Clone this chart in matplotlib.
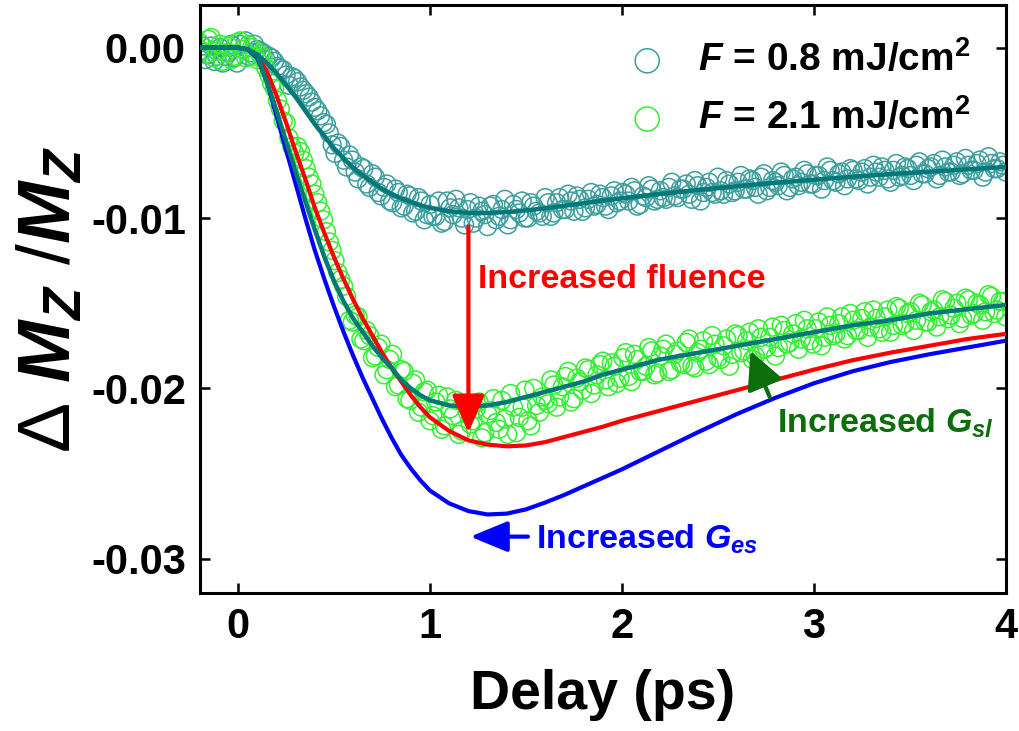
import numpy as np
import matplotlib
matplotlib.use("Agg")
from matplotlib import pyplot as plt

plt.rcParams['font.family'] = ['Liberation Sans', 'DejaVu Sans']
plt.rcParams['font.weight'] = 'bold'
plt.rcParams['mathtext.fontset'] = 'custom'
plt.rcParams['mathtext.rm'] = 'Liberation Sans:bold'
plt.rcParams['mathtext.it'] = 'Liberation Sans:bold:italic'
plt.rcParams['mathtext.bf'] = 'Liberation Sans:bold'
plt.rcParams['mathtext.sf'] = 'Liberation Sans:weight=normal'

# 测量数据：延迟时间 (ps)，两次扫描交错
delay = [-0.20, -0.17, -0.14, -0.11, -0.08, -0.05, -0.02, 0.01, 0.04, 0.07,
         0.10, 0.13, 0.16, 0.19, 0.22, 0.25, 0.28, 0.31, 0.34, 0.37,
         0.40, 0.43, 0.46, 0.49, 0.52, 0.55, 0.58, 0.61, 0.64, 0.67,
         0.70, 0.73, 0.76, 0.79, 0.82, 0.85, 0.88, 0.91, 0.94, 0.97,
         1.00, 1.03, 1.06, 1.09, 1.12, 1.15, 1.18, 1.21, 1.24, 1.27,
         1.30, 1.33, 1.36, 1.39, 1.42, 1.45, 1.48, 1.51, 1.54, 1.57,
         1.60, 1.63, 1.66, 1.69, 1.72, 1.75, 1.78, 1.81, 1.84, 1.87,
         1.90, 1.93, 1.96, 1.99, 2.02, 2.05, 2.08, 2.11, 2.14, 2.17,
         2.20, 2.23, 2.26, 2.29, 2.32, 2.35, 2.38, 2.41, 2.44, 2.47,
         2.50, 2.53, 2.56, 2.59, 2.62, 2.65, 2.68, 2.71, 2.74, 2.77,
         2.80, 2.83, 2.86, 2.89, 2.92, 2.95, 2.98, 3.01, 3.04, 3.07,
         3.10, 3.13, 3.16, 3.19, 3.22, 3.25, 3.28, 3.31, 3.34, 3.37,
         3.40, 3.43, 3.46, 3.49, 3.52, 3.55, 3.58, 3.61, 3.64, 3.67,
         3.70, 3.73, 3.76, 3.79, 3.82, 3.85, 3.88, 3.91, 3.94, 3.97,
         4.00]
delay_b = [-0.185, -0.155, -0.125, -0.095, -0.065, -0.035, -0.005, 0.025, 0.055, 0.085,
           0.115, 0.145, 0.175, 0.205, 0.235, 0.265, 0.295, 0.325, 0.355, 0.385,
           0.415, 0.445, 0.475, 0.505, 0.535, 0.565, 0.595, 0.625, 0.655, 0.685,
           0.715, 0.745, 0.775, 0.805, 0.835, 0.865, 0.895, 0.925, 0.955, 0.985,
           1.015, 1.045, 1.075, 1.105, 1.135, 1.165, 1.195, 1.225, 1.255, 1.285,
           1.315, 1.345, 1.375, 1.405, 1.435, 1.465, 1.495, 1.525, 1.555, 1.585,
           1.615, 1.645, 1.675, 1.705, 1.735, 1.765, 1.795, 1.825, 1.855, 1.885,
           1.915, 1.945, 1.975, 2.005, 2.035, 2.065, 2.095, 2.125, 2.155, 2.185,
           2.215, 2.245, 2.275, 2.305, 2.335, 2.365, 2.395, 2.425, 2.455, 2.485,
           2.515, 2.545, 2.575, 2.605, 2.635, 2.665, 2.695, 2.725, 2.755, 2.785,
           2.815, 2.845, 2.875, 2.905, 2.935, 2.965, 2.995, 3.025, 3.055, 3.085,
           3.115, 3.145, 3.175, 3.205, 3.235, 3.265, 3.295, 3.325, 3.355, 3.385,
           3.415, 3.445, 3.475, 3.505, 3.535, 3.565, 3.595, 3.625, 3.655, 3.685,
           3.715, 3.745, 3.775, 3.805, 3.835, 3.865, 3.895, 3.925, 3.955, 3.985]

# F = 0.8 mJ/cm2  (单位 1e-4)
dm_low = [-2, -7, 1, -5, -9, -3, -6, 2, 4, -3,
          -1, -3, -5, -8, -12, -16, -17, -20, -25, -29,
          -35, -40, -45, -57, -56, -66, -63, -73, -70, -80,
          -74, -85, -82, -90, -83, -94, -86, -97, -88, -101,
          -92, -99, -103, -90, -98, -94, -104, -91, -100, -96,
          -105, -92, -99, -89, -101, -95, -90, -100, -93, -97,
          -88, -99, -91, -95, -86, -96, -89, -94, -85, -92,
          -88, -95, -84, -90, -86, -82, -93, -87, -81, -90,
          -84, -89, -79, -88, -83, -86, -78, -90, -82, -85,
          -76, -86, -80, -84, -75, -83, -78, -86, -74, -82,
          -79, -73, -84, -77, -81, -72, -80, -75, -83, -70,
          -78, -74, -81, -71, -77, -73, -80, -69, -76, -72,
          -79, -68, -75, -71, -78, -67, -74, -70, -77, -66,
          -73, -69, -75, -65, -72, -68, -76, -64, -71, -67,
          -73]
dm_low_b = [1, -4, -8, 0, -5, 2, -9, -1, -5, 2,
            -2, -7, -6, -11, -13, -22, -18, -23, -27, -32,
            -37, -44, -50, -62, -58, -70, -66, -77, -71, -82,
            -76, -87, -80, -91, -85, -93, -87, -96, -90, -98,
            -99, -90, -102, -94, -89, -100, -95, -103, -93, -98,
            -93, -101, -95, -104, -92, -97, -100, -91, -96, -99,
            -91, -97, -88, -95, -90, -87, -96, -89, -93, -86,
            -93, -87, -91, -85, -90, -84, -92, -88, -83, -89,
            -88, -82, -87, -83, -80, -89, -81, -85, -79, -86,
            -84, -78, -85, -79, -83, -77, -82, -76, -84, -78,
            -81, -75, -82, -76, -79, -74, -80, -75, -78, -72,
            -79, -73, -77, -72, -78, -71, -76, -73, -70, -77,
            -72, -76, -70, -75, -69, -74, -71, -68, -75, -70,
            -73, -67, -74, -69, -72, -66, -73, -68, -71, -69]

# F = 2.1 mJ/cm2  (单位 1e-4)
dm_high = [3, -4, 6, -2, -8, 1, -5, 4, -6, 0,
           -7, -6, -16, -24, -36, -44, -58, -58, -66, -76,
           -86, -96, -108, -119, -132, -140, -160, -157, -171, -166,
           -182, -176, -192, -183, -199, -189, -206, -197, -214, -202,
           -219, -208, -224, -205, -216, -227, -209, -221, -212, -229,
           -215, -206, -224, -218, -203, -226, -211, -219, -200, -214,
           -207, -195, -211, -199, -190, -206, -196, -188, -203, -192,
           -184, -199, -187, -194, -179, -196, -183, -190, -176, -192,
           -181, -174, -189, -178, -186, -171, -188, -177, -184, -169,
           -182, -175, -187, -168, -179, -172, -183, -165, -177, -170,
           -181, -163, -174, -168, -177, -160, -172, -165, -175, -158,
           -169, -162, -171, -156, -166, -159, -170, -154, -165, -158,
           -167, -152, -163, -156, -166, -150, -161, -155, -164, -148,
           -159, -153, -162, -147, -157, -150, -160, -145, -156, -149,
           -158]
dm_high_b = [-2, 5, -6, 2, -3, -7, 3, -1, 2, -5,
             -4, -12, -21, -31, -43, -53, -62, -61, -71, -80,
             -91, -101, -114, -125, -136, -146, -161, -158, -172, -169,
             -181, -174, -189, -180, -198, -190, -207, -195, -211, -201,
             -216, -204, -222, -212, -207, -225, -214, -219, -208, -226,
             -213, -220, -207, -227, -211, -217, -201, -222, -210, -205,
             -209, -198, -205, -193, -208, -194, -201, -189, -198, -186,
             -195, -185, -197, -182, -193, -180, -190, -187, -178, -191,
             -177, -190, -180, -185, -173, -187, -179, -172, -186, -174,
             -183, -171, -180, -169, -178, -167, -181, -170, -176, -164,
             -176, -166, -173, -162, -171, -165, -174, -161, -170, -163,
             -168, -158, -169, -160, -166, -155, -164, -159, -167, -154,
             -163, -153, -162, -155, -160, -151, -161, -154, -158, -149,
             -157, -150, -159, -148, -156, -151, -155, -146, -154, -149]

# 模拟曲线 (单位 1e-4)
sim_t = [-0.2, -0.1, 0.0, 0.05, 0.1, 0.15, 0.2, 0.25, 0.3, 0.35, 0.4, 0.45, 0.5, 0.55,
         0.6, 0.65, 0.7, 0.75, 0.8, 0.85, 0.9, 0.95, 1.0, 1.1, 1.2, 1.3, 1.4, 1.5, 1.6,
         1.7, 1.8, 1.9, 2.0, 2.2, 2.4, 2.6, 2.8, 3.0, 3.2, 3.4, 3.6, 3.8, 4.0]
fit_low = [0, 0, 0, -1, -4, -9, -15, -22, -29, -37, -45, -52, -59, -65,
           -70.5, -75, -79, -83, -86, -88.5, -90.5, -92.5, -94, -96, -97, -97, -96.5, -95.5, -94.3,
           -92.8, -91.3, -89.8, -88.4, -85.8, -83.5, -81.3, -79.3, -77.5, -75.8, -74.2, -72.8, -71.4, -70]
fit_high = [0, 0, 0, -1, -5, -20, -37, -55, -73, -90, -107, -123, -137, -149,
            -159, -167, -175, -182, -188, -195, -200, -204, -207, -210, -211, -210, -208, -205, -202,
            -199, -196, -192, -189, -183, -179, -175, -171, -167, -163, -160, -156, -153.5, -151]
sim_fluence = [0, 0, 0, -1, -5, -14, -28, -44, -61, -77, -94, -109, -123, -136,
               -148, -159, -169, -179, -188, -196, -204, -211, -217, -225, -230.5, -233, -234, -233.5, -231.5,
               -228.5, -225.5, -222.5, -219, -213, -207, -201, -195, -189, -183.5, -179, -175, -171, -168]
sim_ges = [0, 0, 0, -1, -6, -20, -40, -60, -80, -100, -119, -136, -152, -167,
           -181, -194, -206, -218, -229, -239, -247, -254, -260, -267.5, -272, -274, -273.5, -271, -267,
           -262.5, -257.5, -252.5, -247.5, -236.5, -225.5, -215, -205.5, -197, -190, -184.5, -180, -176, -172]

unit = 1e-4
teal_pts = '#3d9e9e'
green_pts = '#33ee33'
teal_line = '#007878'
dark_green = '#0b6e0b'

fig = plt.figure(figsize=(10.19, 7.31), dpi=100)
ax = fig.add_axes([0.196, 0.189, 0.791, 0.804])

ax.scatter(delay + delay_b, np.array(dm_low + dm_low_b) * unit, s=165, facecolors='none',
           edgecolors=teal_pts, linewidths=1.1, label=r'$F$ = 0.8 mJ/cm$^2$', zorder=2)
ax.scatter(delay + delay_b, np.array(dm_high + dm_high_b) * unit, s=165, facecolors='none',
           edgecolors=green_pts, linewidths=1.1, label=r'$F$ = 2.1 mJ/cm$^2$', zorder=2)

ax.plot(sim_t, np.array(sim_ges) * unit, color='#0000ff', lw=3, zorder=3)
ax.plot(sim_t, np.array(sim_fluence) * unit, color='#ff0000', lw=3, zorder=3)
ax.plot(sim_t, np.array(fit_high) * unit, color=teal_line, lw=3.2, zorder=4)
ax.plot(sim_t, np.array(fit_low) * unit, color=teal_line, lw=3.2, zorder=4)

# 箭头与注释
ax.annotate('', xy=(1.20, -0.0226), xytext=(1.20, -0.0105),
            arrowprops=dict(arrowstyle='-|>,head_length=2.3,head_width=1.0', mutation_scale=10,
                            color='#ff0000', lw=3, shrinkA=0, shrinkB=0), zorder=5)
ax.text(1.248, -0.01413, 'Increased fluence', color='#ff0000', fontsize=24.5, fontweight='bold')

ax.annotate('', xy=(2.67, -0.0178), xytext=(2.77, -0.0205),
            arrowprops=dict(arrowstyle='-|>,head_length=2.3,head_width=1.15', mutation_scale=10,
                            color=dark_green, lw=3, shrinkA=0, shrinkB=0), zorder=5)
ax.text(2.808, -0.02258, r'Increased $G_{sl}$', color=dark_green, fontsize=24.5, fontweight='bold')

ax.annotate('', xy=(1.21, -0.0287), xytext=(1.51, -0.0287),
            arrowprops=dict(arrowstyle='-|>,head_length=2.3,head_width=0.95', mutation_scale=10,
                            color='#0000ff', lw=3, shrinkA=0, shrinkB=0), zorder=5)
ax.text(1.55, -0.02938, r'Increased $G_{es}$', color='#0000ff', fontsize=24.5, fontweight='bold')

ax.set_xlim(-0.2, 4.0)
ax.set_ylim(-0.032, 0.0025)
ax.set_xticks([0, 1, 2, 3, 4])
ax.set_yticks([0.0, -0.01, -0.02, -0.03])
ax.set_yticklabels(['0.00', '-0.01', '-0.02', '-0.03'])
ax.tick_params(direction='in', length=7, width=1.8, labelsize=30, top=True, right=True)
ax.tick_params(axis='x', pad=10)
ax.tick_params(axis='y', pad=10)
for sp in ax.spines.values():
    sp.set_linewidth(2.2)

ax.set_xlabel('Delay (ps)', fontsize=40, fontweight='bold', labelpad=16)
ax.set_ylabel(r'$\mathsf{\Delta}$ $M_Z$ /$M_Z$', fontsize=54, labelpad=4)

ax.legend(loc='upper right', bbox_to_anchor=(0.985, 0.98), frameon=False, fontsize=28,
          markerscale=1.35, handletextpad=0.3, labelspacing=0.5, borderaxespad=0.2)

plt.savefig('out.png', dpi=100)
